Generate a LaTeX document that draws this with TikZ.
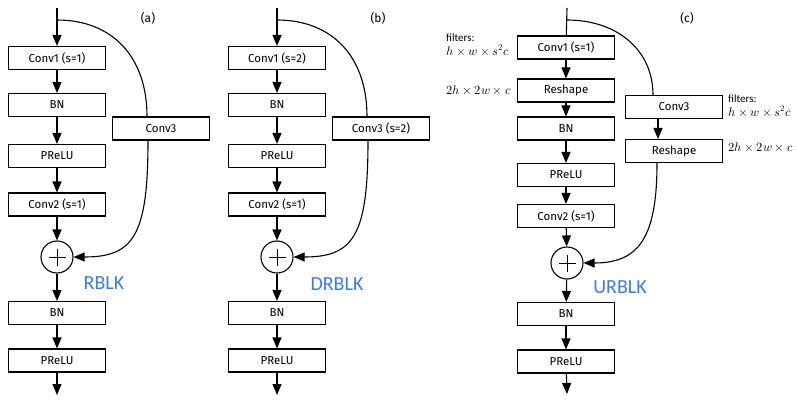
\documentclass[tikz,border=0pt]{standalone}
\usepackage{amsmath}
\usepackage{fontspec}
\usepackage{unicode-math}
\setmathfont{Latin Modern Math}
\setsansfont{Fira Sans}
\newfontfamily\calib{Carlito}
\usetikzlibrary{arrows.meta}
\definecolor{blkblue}{RGB}{58,124,232}
\newcommand{\filtlbl}{{\calib\fontsize{11}{12}\selectfont filters:}}
\tikzset{
	blk/.style={draw, line width=1.1pt, minimum width=97pt, minimum height=23pt, inner sep=0pt, font=\sffamily\fontsize{11.5}{14}\selectfont},
	addop/.style={draw, circle, line width=1.1pt, minimum size=32pt, inner sep=0pt},
	flow/.style={line width=1.1pt, -{Triangle[length=11pt,width=9pt]}},
	wire/.style={line width=1.1pt},
	tag/.style={font=\sffamily\fontsize{12}{14}\selectfont},
	blkname/.style={font=\calib\fontsize{20}{22}\selectfont, text=blkblue},
	dims/.style={font=\fontsize{12.5}{13.5}\selectfont, align=left, inner sep=0pt, anchor=west},
}
\begin{document}
\begin{tikzpicture}[x=1pt,y=-1pt]
\useasboundingbox (0,0) rectangle (797,401);

% (a) residual block
\coordinate (top_a) at (57,8);
\coordinate (split_a) at (57,20);
\node[blk] (conv1a) at (57,58) {Conv1 (s=1)};
\node[blk] (bna) at (57,105) {BN};
\node[blk] (prelua) at (57,156) {PReLU};
\node[blk] (conv2a) at (57,204.5) {Conv2 (s=1)};
\node[addop] (adda) at (57,257) {};
\node[blk] (bn2a) at (57,313) {BN};
\node[blk] (prelu2a) at (57,360.5) {PReLU};
\coordinate (out_a) at (57,395);
\node[blk] (conv3a) at (161,128.5) {Conv3};
\node[tag] (lbl_a) at (148,18) {(a)};
\node[blkname] (name_a) at (104,283) {RBLK};

% (b) down-sampling block
\coordinate (top_b) at (277,8);
\coordinate (split_b) at (277,20);
\node[blk] (conv1b) at (277,58) {Conv1 (s=2)};
\node[blk] (bnb) at (277,105) {BN};
\node[blk] (prelub) at (277,156) {PReLU};
\node[blk] (conv2b) at (277,204.5) {Conv2 (s=1)};
\node[addop] (addb) at (277,257) {};
\node[blk] (bn2b) at (277,313) {BN};
\node[blk] (prelu2b) at (277,360.5) {PReLU};
\coordinate (out_b) at (277,395);
\node[blk] (conv3b) at (381,128.5) {Conv3 (s=2)};
\node[tag] (lbl_b) at (378,18) {(b)};
\node[blkname] (name_b) at (337,284) {DRBLK};

% (c) up-sampling block
\coordinate (top_c) at (567,8);
\coordinate (split_c) at (567,20);
\node[blk] (conv1c) at (566,47.5) {Conv1 (s=1)};
\node[blk] (reshc) at (566,90.5) {Reshape};
\node[blk] (bnc) at (566,128.5) {BN};
\node[blk] (preluc) at (566,175) {PReLU};
\node[blk] (conv2c) at (566,216) {Conv2 (s=1)};
\node[addop] (addc) at (567,263) {};
\node[blk] (bn2c) at (566,314) {BN};
\node[blk] (prelu2c) at (566,361.5) {PReLU};
\coordinate (out_c) at (567,394);
\node[blk] (conv3c) at (674,107) {Conv3};
\node[blk] (resh2c) at (674,151) {Reshape};
\node[tag] (lbl_c) at (687,18) {(c)};
\node[blkname] (name_c) at (620,287) {URBLK};

\node[dims] (filt1) at (446,45) {\filtlbl\\$h\times w\times s^2c$};
\node[dims] (size1) at (446,90) {$2h\times 2w\times c$};
\node[dims] (filt2) at (728,106) {\filtlbl\\$h\times w\times s^2c$};
\node[dims] (size2) at (728,147) {$2h\times 2w\times c$};

% plus signs
\foreach \n in {adda, addb, addc}
{
	\draw[line width=1pt] (\n.center) +(-8.5,0) -- +(8.5,0) +(0,-8.5) -- +(0,8.5);
}

% main paths
\foreach \a/\b in {top_a/conv1a, conv1a/bna, bna/prelua, prelua/conv2a, conv2a/adda, adda/bn2a, bn2a/prelu2a, prelu2a/out_a,
	top_b/conv1b, conv1b/bnb, bnb/prelub, prelub/conv2b, conv2b/addb, addb/bn2b, bn2b/prelu2b, prelu2b/out_b,
	conv1c/reshc, reshc/bnc, bnc/preluc, preluc/conv2c, conv2c/addc, addc/bn2c, bn2c/prelu2c, prelu2c/out_c}
	\draw[flow] (\a) -- (\b);
\draw[wire] (top_c) -- (conv1c);

% shortcuts
\draw[wire] (split_a) .. controls +(55,0) and +(0,-60) .. ([xshift=-14pt]conv3a.north);
\draw[flow] ([xshift=-13pt]conv3a.south) .. controls +(0,95) and +(60,0) .. (adda.east);
\draw[wire] (split_b) .. controls +(55,0) and +(0,-60) .. ([xshift=-14pt]conv3b.north);
\draw[flow] ([xshift=-13pt]conv3b.south) .. controls +(0,95) and +(60,0) .. (addb.east);
\draw[wire] (split_c) .. controls +(50,0) and +(0,-45) .. ([xshift=-21pt]conv3c.north);
\draw[flow] ([xshift=-16pt]conv3c.south) -- ([xshift=-16pt]resh2c.north);
\draw[flow] ([xshift=-17pt]resh2c.south) .. controls +(0,75) and +(55,0) .. (addc.east);

\end{tikzpicture}
\end{document}
